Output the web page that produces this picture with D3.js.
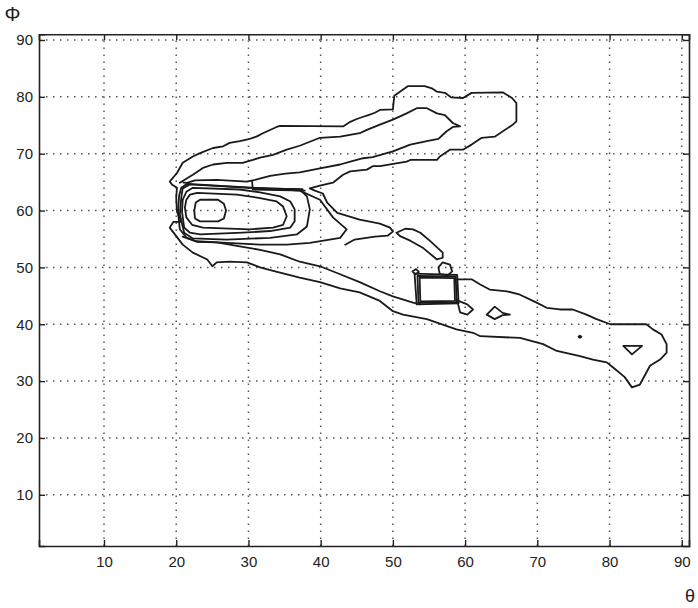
<!DOCTYPE html>
<html><head><meta charset="utf-8">
<script src="https://cdn.jsdelivr.net/npm/d3@7"></script>
<style>body{margin:0;background:#fff}</style>
</head><body>
<svg id="c" width="698" height="608"></svg>
<script>
// ---- axis data ----
const xTicks = [10,20,30,40,50,60,70,80,90];
const yTicks = [10,20,30,40,50,60,70,80,90];
const xDomain = [1,91];
const yDomain = [1,91];

// ---- contour lines, [theta, phi] ----
const outerUpper = [
 [20.7,58.0],[20.1,59.8],[20.0,62.3],[20.1,64.0],[19.4,64.6],[19.1,65.1],[20.1,66.6],[20.9,68.4],[22.3,69.5],[23.3,70.1],
 [25.1,71.0],[26.5,71.3],[27.4,71.9],[28.8,72.2],[29.9,72.5],[31.1,73.0],[32.0,73.6],[33.9,74.7],[34.4,74.9],[43.1,74.8],
 [44.1,75.6],[45.0,76.1],[45.9,76.5],[46.6,76.8],[47.5,77.2],[48.2,77.7],[50.0,77.8],[50.2,80.2],[52.1,81.9],[54.4,81.9],
 [55.4,81.5],[56.1,80.9],[57.2,80.7],[58.1,79.9],[59.7,79.8],[60.9,80.7],[65.2,80.8],[66.5,79.8],[67.1,78.9],[67.1,75.7],
 [66.6,75.1],[64.1,73.0],[62.3,72.8],[60.9,71.6],[59.7,70.7],[57.9,70.7],[56.5,69.5],[56.1,68.9],[52.4,68.9],[51.9,68.6],
 [48.2,67.8],[47.2,67.8],[46.4,67.2],[44.1,66.9],[43.1,66.3],[41.7,64.9],[39.9,64.4],[38.5,63.9],
 [39.2,63.5],[40.3,63.0],[40.9,61.4],[42.3,59.6],[45.4,58.4],[48.2,57.7],[49.6,57.0],[50.0,56.3],[49.3,55.6],[47.5,55.4],
 [44.7,54.9],[43.4,54.0]
];
const level2Upper = [
 [20.5,64.9],[22.3,66.3],[23.7,67.5],[25.1,68.1],[27.0,68.4],[29.2,68.4],[30.6,68.9],[31.6,69.3],[33.4,69.8],[35.3,70.7],
 [37.1,71.4],[39.9,72.8],[42.7,73.0],[45.4,73.6],[46.4,74.2],[48.2,75.1],[50.0,76.0],[51.9,77.1],[53.3,78.0],[54.7,78.0],
 [56.1,77.1],[57.2,76.8],[58.3,75.4],[59.3,74.8],[58.3,74.7],[57.4,73.9],[56.3,72.6],[54.7,72.2],[52.4,71.6],[50.0,70.4],
 [47.2,69.4],[45.9,69.2],[44.1,68.6],[42.7,68.1],[39.9,67.4],[37.1,66.7],[35.1,66.5],[33.0,66.1],[30.9,65.4],[29.8,65.1],
 [25.6,65.4],[22.6,65.3],[21.5,64.85],[21.0,64.9]
];
const ridge = [[30.5,65.2],[30.6,63.7],[37.8,63.5]];
const ridge2 = [[30.8,63.9],[37.5,63.75]];
const lobe1 = [[23.3,61.9],[25.8,61.9],[26.6,61.2],[26.9,60.0],[26.6,58.6],[25.8,58.1],[23.3,58.1],[22.6,58.6],[22.5,60.0],[22.7,61.4]];
const lobe2 = [[21.4,61.9],[21.9,62.8],[22.9,63.1],[28.4,62.8],[31.6,62.2],[33.9,61.6],[34.8,60.7],[35.3,59.0],[34.8,57.5],[33.4,57.0],
 [30.2,56.7],[23.7,57.0],[22.2,57.5],[21.4,58.8],[21.2,60.5]];
const lobe3 = [[20.9,61.9],[21.4,63.3],[22.3,64.0],[28.8,63.7],[31.6,63.2],[34.4,62.5],[35.8,61.6],[36.4,60.2],[36.4,58.1],[35.8,57.0],
 [33.0,56.4],[29.2,56.1],[23.3,55.8],[21.9,56.1],[21.1,57.0],[20.8,59.8]];
const lobe4 = [[20.7,62.3],[20.9,63.9],[21.9,64.6],[30.2,64.0],[37.1,63.7],[38.1,62.5],[38.5,60.2],[38.1,57.2],[36.7,55.8],[33.0,55.2],
 [27.0,54.9],[22.3,55.1],[21.1,56.1],[20.5,59.3]];
const lobe5 = [[20.4,62.6],[20.7,64.0],[21.5,64.7],[37.1,63.5],[39.9,61.9],[41.7,58.8],[43.6,56.7],[42.7,55.2],[38.5,54.3],[35.3,54.0],
 [31.6,54.0],[27.0,54.3],[22.8,54.6],[21.4,55.25],[20.5,56.7],[20.25,59.8]];
const outerLower = [
 [20.7,58.0],[19.6,58.0],[19.1,57.0],[20.9,54.0],[22.3,52.6],[24.3,51.4],[25.0,50.2],[25.6,50.9],[27.4,51.0],[29.8,50.9],
 [31.6,50.0],[33.7,49.3],[37.1,48.2],[39.9,47.4],[42.7,46.3],[45.4,45.6],[48.2,44.1],[50.0,42.3],[51.4,41.7],[54.7,40.9],
 [57.4,39.7],[58.8,39.1],[61.1,38.5],[62.1,37.9],[67.6,37.6],[69.4,37.0],[70.8,36.5],[72.7,35.3],[75.9,34.4],[77.7,33.8],
 [79.6,33.3],[80.5,32.4],[82.1,30.7],[83.1,28.9],[84.2,29.4],[85.6,32.7],[87.0,33.8],[87.9,35.0],[87.9,36.5],[87.2,38.2],
 [86.0,39.1],[85.1,40.0],[80.1,40.0],[78.2,40.9],[76.8,41.7],[74.9,42.6],[73.1,42.6],[71.3,42.9],[69.9,43.8],[67.6,45.2],
 [65.8,45.8],[63.4,46.1],[62.1,47.0],[60.9,47.9],[58.8,47.9]
];
const level2Lower = [
 [20.9,55.4],[22.9,54.5],[25.6,54.4],[28.8,53.7],[31.6,53.1],[34.4,52.3],[37.1,51.0],[39.9,50.2],[42.7,48.8],[45.4,47.4],
 [48.2,45.8],[50.0,44.9],[52.8,43.8],[53.8,43.5]
];
const squareOuter = [[53.0,48.9],[58.9,48.7],[59.1,43.7],[53.3,43.5]];
const squareInner = [[53.7,48.2],[58.5,48.1],[58.6,44.1],[53.8,44.0]];
const squareMid = [[53.4,48.5],[58.7,48.4],[58.85,43.9],[53.55,43.75]];
const ringSmall = [[52.7,49.3],[53.2,49.7],[53.6,49.2],[53.1,48.8]];
const bumpSquare = [[56.5,48.8],[56.3,50.0],[56.9,50.9],[57.9,50.5],[58.2,49.3],[57.6,48.6]];
const tailSquare = [[58.9,44.2],[60.3,43.5],[61.1,42.6],[60.3,41.7],[59.3,42.1]];
const cigar = [[50.5,56.1],[51.7,56.8],[52.8,56.7],[53.8,56.1],[55.1,54.7],[56.9,52.6],[56.9,51.7],[56.1,51.4],[54.2,53.4],[52.4,54.7],[51.0,55.5]];
const diamond = [[63.0,41.7],[64.1,43.1],[65.2,42.0],[66.2,41.7],[65.2,41.6],[64.1,40.9]];
const dot = [[75.7,37.8],[75.9,38.0],[76.1,37.8],[75.9,37.6]];
const triangle = [[81.9,36.2],[84.5,36.2],[83.1,34.7]];

const openLines = [outerUpper, level2Upper, ridge, ridge2, outerLower, level2Lower];
const closedLines = [lobe1, lobe2, lobe3, lobe4, lobe5, squareOuter, squareMid, squareInner, ringSmall, bumpSquare, tailSquare, cigar, diamond, dot, triangle];

// ---- drawing ----
const svg = d3.select("#c");
const x = d3.scaleLinear().domain(xDomain).range([39, 689]);
const y = d3.scaleLinear().domain(yDomain).range([546, 34.3]);
const font = "'Liberation Sans', Arial, Helvetica, sans-serif";

// grid
const grid = svg.append("g").attr("stroke", "#555").attr("stroke-width", 1.5).attr("stroke-dasharray", "1.5,5.5");
grid.selectAll(".gx").data(xTicks).join("line")
  .attr("x1", d => x(d)).attr("x2", d => x(d)).attr("y1", y(yDomain[0])).attr("y2", y(yDomain[1]));
grid.selectAll(".gy").data(yTicks).join("line")
  .attr("y1", d => y(d)).attr("y2", d => y(d)).attr("x1", x(xDomain[0])).attr("x2", x(xDomain[1]));

// axes (inward ticks, box)
const tickLen = 6;
const axB = svg.append("g").attr("transform", `translate(0,${y(yDomain[0])})`)
  .call(d3.axisBottom(x).tickValues(xTicks).tickSize(-tickLen).tickPadding(10).tickFormat(d3.format("d")));
const axL = svg.append("g").attr("transform", `translate(${x(xDomain[0])},0)`)
  .call(d3.axisLeft(y).tickValues(yTicks).tickSize(-tickLen).tickPadding(6).tickFormat(d3.format("d")));
const axT = svg.append("g").attr("transform", `translate(0,${y(yDomain[1])})`)
  .call(d3.axisTop(x).tickValues(xTicks).tickSize(-tickLen).tickFormat(""));
const axR = svg.append("g").attr("transform", `translate(${x(xDomain[1])},0)`)
  .call(d3.axisRight(y).tickValues(yTicks).tickSize(-tickLen).tickFormat(""));
[axB, axL, axT, axR].forEach(a => {
  a.select(".domain").attr("stroke", "#222").attr("stroke-width", 1.6);
  a.selectAll(".tick line").attr("stroke", "#222").attr("stroke-width", 1.4);
  a.selectAll("text").attr("font-family", font).attr("font-size", 15).attr("fill", "#222");
});
axB.selectAll("text").attr("dy", "0.71em");

// contours
const line = d3.line().x(d => x(d[0])).y(d => y(d[1]));
const lineClosed = d3.line().x(d => x(d[0])).y(d => y(d[1])).curve(d3.curveLinearClosed);
const cg = svg.append("g").attr("fill", "none").attr("stroke", "#1a1a1a").attr("stroke-width", 1.8)
  .attr("stroke-linejoin", "round").attr("stroke-linecap", "round");
cg.selectAll(".o").data(openLines).join("path").attr("d", line);
cg.selectAll(".c").data(closedLines).join("path").attr("d", lineClosed);

// axis symbols
svg.append("text").attr("x", 12.5).attr("y", 21).attr("text-anchor", "middle")
  .attr("font-family", font).attr("font-size", 20).attr("fill", "#222").text("Φ");
svg.append("text").attr("x", 690).attr("y", 602).attr("text-anchor", "middle")
  .attr("font-family", font).attr("font-size", 18).attr("fill", "#222").text("θ");
</script>
</body></html>
